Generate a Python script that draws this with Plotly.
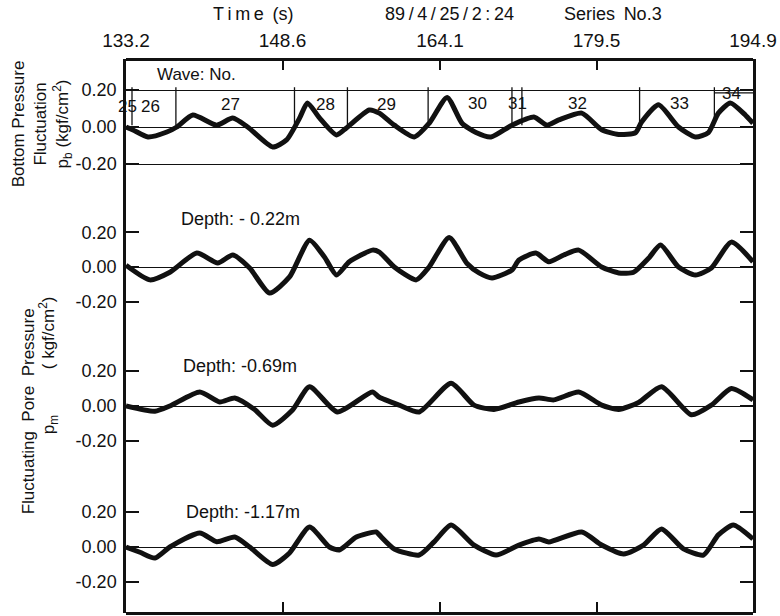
import plotly.graph_objects as go

# ---- time axis (s) ----
time_ticks = [133.2, 148.6, 164.1, 179.5, 194.9]

# ---- bottom pressure fluctuation p_b (kgf/cm^2) ----
t_pb = [133.2, 133.89, 135.36, 137.22, 138.2, 139.78, 142.13, 143.7, 145.17, 147.63,
        149.0, 150.28, 151.06, 152.24, 153.91, 154.89, 157.14, 158.13, 159.6, 161.56,
        163.03, 164.8, 166.27, 167.64, 169.12, 171.18, 173.34, 174.61, 175.79, 178.05,
        180.01, 181.68, 183.35, 183.94, 185.6, 187.57, 189.23, 190.51, 191.49, 192.67,
        194.14, 194.9]
p_b = [0.0, -0.016, -0.054, -0.027, 0.0, 0.065, 0.01, 0.048, 0.0, -0.108,
       -0.07, 0.048, 0.13, 0.049, -0.043, -0.005, 0.092, 0.075, 0.01, -0.054,
       0.02, 0.16, 0.02, -0.03, -0.054, 0.01, 0.054, 0.01, 0.038, 0.075,
       -0.015, -0.04, -0.03, 0.027, 0.12, 0.0, -0.054, -0.03, 0.075, 0.13,
       0.065, 0.02]

# ---- pore pressure p_m, depth -0.22 m ----
t_d022 = [133.2, 135.55, 137.52, 140.17, 142.23, 143.7, 145.37, 147.33, 149.29, 151.26,
          152.73, 153.91, 155.17, 157.44, 158.13, 159.6, 161.76, 163.03, 165.0, 166.76,
          167.94, 169.22, 171.18, 171.87, 173.53, 174.81, 176.28, 177.75, 180.01, 181.68,
          183.15, 184.62, 185.8, 187.57, 189.23, 190.8, 192.77, 194.9]
pm_d022 = [0.01, -0.074, -0.03, 0.08, 0.023, 0.069, -0.006, -0.15, -0.057, 0.154,
           0.057, -0.046, 0.03, 0.097, 0.086, 0.0, -0.074, 0.0, 0.17, 0.02,
           -0.034, -0.063, -0.017, 0.04, 0.08, 0.03, 0.069, 0.097, 0.0, -0.034,
           -0.03, 0.05, 0.126, 0.0, -0.046, -0.006, 0.143, 0.03]

# ---- pore pressure p_m, depth -0.69 m ----
t_d069 = [133.2, 136.05, 137.52, 140.46, 142.42, 143.9, 145.86, 147.63, 149.59, 151.26,
          154.0, 157.44, 158.13, 160.09, 162.05, 165.19, 167.45, 169.41, 171.87, 173.83,
          175.3, 177.75, 180.01, 181.68, 183.64, 185.9, 188.84, 190.8, 192.77, 194.9]
pm_d069 = [0.0, -0.03, 0.0, 0.08, 0.023, 0.046, -0.02, -0.11, -0.023, 0.11,
           -0.034, 0.08, 0.05, 0.005, -0.034, 0.13, 0.005, -0.02, 0.023, 0.046,
           0.035, 0.08, 0.005, -0.02, 0.02, 0.11, -0.05, 0.005, 0.1, 0.035]

# ---- pore pressure p_m, depth -1.17 m ----
t_d117 = [133.2, 134.57, 136.05, 137.52, 140.46, 142.13, 143.9, 145.37, 147.63, 149.29,
          151.26, 153.22, 154.2, 155.87, 157.83, 158.13, 159.6, 162.05, 163.52, 165.19,
          167.45, 169.61, 171.87, 173.83, 174.81, 178.05, 180.01, 182.17, 184.13, 185.9,
          188.06, 190.02, 191.49, 192.96, 194.9]
pm_d117 = [0.0, -0.03, -0.063, 0.0, 0.08, 0.03, 0.057, 0.0, -0.1, -0.034,
           0.114, 0.0, -0.017, 0.057, 0.086, 0.069, -0.011, -0.046, 0.029, 0.126,
           0.011, -0.046, 0.011, 0.046, 0.029, 0.086, 0.011, -0.04, 0.011, 0.103,
           -0.011, -0.046, 0.069, 0.126, 0.046]

# ---- individual waves (zero-up-cross boundaries and wave numbers) ----
wave_bounds = [133.79, 138.11, 149.78, 154.99, 162.93, 171.18, 172.16, 183.74, 191.1]
wave_nos = ["25", "26", "27", "28", "29", "30", "31", "32", "33", "34"]
wave_label_t = [133.3, 135.6, 143.5, 152.8, 158.8, 167.8, 171.7, 177.6, 187.7, 192.8]
wave_label_p = [0.11, 0.11, 0.12, 0.12, 0.12, 0.125, 0.125, 0.125, 0.125, 0.18]

depth_labels = ["Depth: - 0.22m", "Depth: -0.69m", "Depth: -1.17m"]

# ---- page geometry (pixels) ----
W, H = 780, 616
L, R, T, B = 126, 755, 59, 613
PW, PH = R - L, B - T


def px(x):
    return (x - L) / PW


def py(y):
    return (B - y) / PH


FONT = "Liberation Sans, Arial, sans-serif"
INK = "#111111"

# panel bands (top, bottom, zero line, px per unit)
bands = [(59, 190, 127, 185.0), (190, 335, 267, 174.0),
         (335, 475, 406, 175.0), (475, 613, 547, 175.0)]

fig = go.Figure()

series = [(t_pb, p_b), (t_d022, pm_d022), (t_d069, pm_d069), (t_d117, pm_d117)]
for i, (tt, vv) in enumerate(series):
    fig.add_trace(go.Scatter(
        x=tt, y=vv, mode="lines",
        line=dict(color=INK, width=5, shape="spline", smoothing=0.6),
        xaxis="x", yaxis="y" if i == 0 else f"y{i + 1}",
        showlegend=False, hoverinfo="skip"))

layout = dict(
    width=W, height=H,
    margin=dict(l=L, r=W - R, t=T, b=H - B, pad=0),
    paper_bgcolor="white", plot_bgcolor="white",
    font=dict(family=FONT, size=18, color=INK),
    showlegend=False,
    xaxis=dict(range=[time_ticks[0], time_ticks[-1]], tickvals=time_ticks,
               ticktext=[f"{v:.1f}" for v in time_ticks],
               side="top", anchor="free", position=1,
               ticks="inside", ticklen=9, tickwidth=1.5, tickcolor=INK,
               showline=True, linecolor=INK, linewidth=2.5,
               showgrid=False, zeroline=False,
               tickfont=dict(size=19), ticklabelstandoff=4),
    xaxis2=dict(range=[time_ticks[0], time_ticks[-1]], overlaying="x",
                tickvals=time_ticks[1:-1], side="bottom", anchor="free",
                position=0, ticks="inside", ticklen=10, tickwidth=1.5,
                tickcolor=INK, showticklabels=False,
                showline=True, linecolor=INK, linewidth=2.5,
                showgrid=False, zeroline=False),
)

for i, (top, bot, zero, scale) in enumerate(bands):
    name = "yaxis" if i == 0 else f"yaxis{i + 1}"
    layout[name] = dict(
        domain=[py(bot), py(top)],
        range=[(zero - bot) / scale, (zero - top) / scale],
        anchor="x",
        tickvals=[-0.2, 0.0, 0.2], ticktext=["-0.20", "0.00", "0.20"],
        ticks="inside", ticklen=13, tickwidth=1.5, tickcolor=INK,
        showline=True, linecolor=INK, linewidth=2.5, mirror="ticks",
        showgrid=(i == 0), gridcolor=INK, gridwidth=1.3,
        zeroline=True, zerolinecolor=INK, zerolinewidth=1.3,
        tickfont=dict(size=18), ticklabelstandoff=3,
    )

fig.update_layout(**layout)

# the bottom axis has no traces of its own; give it a hidden one so it draws
fig.add_trace(go.Scatter(x=[time_ticks[0]], y=[None], xaxis="x2", yaxis="y4",
                         mode="markers", showlegend=False, hoverinfo="skip"))

# wave boundaries in the bottom-pressure panel
for tb in wave_bounds:
    fig.add_shape(type="line", xref="x", yref="y", x0=tb, x1=tb, y0=0.01, y1=0.215,
                  line=dict(color=INK, width=1.3))
fig.add_shape(type="line", xref="x", yref="y", x0=wave_bounds[-1], x1=time_ticks[-1],
              y0=0.185, y1=0.185, line=dict(color=INK, width=1.3))

annotations = []
for lab, tl, pl in zip(wave_nos, wave_label_t, wave_label_p):
    annotations.append(dict(text=lab, x=tl, y=pl, xref="x", yref="y",
                            showarrow=False, font=dict(size=17)))

annotations.append(dict(text="Wave: No.", x=px(197), y=py(75), xref="paper",
                        yref="paper", showarrow=False, font=dict(size=17)))

for lab, (xx, yy) in zip(depth_labels, [(241, 219), (240, 366), (243, 512)]):
    annotations.append(dict(text=lab, x=px(xx), y=py(yy), xref="paper",
                            yref="paper", showarrow=False, font=dict(size=18)))

# header line
annotations += [
    dict(text="T\u2009i\u2009m\u2009e\u2009 (s)", x=px(253), y=py(14)),
    dict(text="89/4/25/2:24".replace("/", "\u2009/\u2009").replace(":", "\u2009:\u2009"),
         x=px(451), y=py(14)),
    dict(text="Series\u2009 No.3", x=px(615), y=py(14)),
]
for a in annotations[-3:]:
    a.update(xref="paper", yref="paper", showarrow=False, font=dict(size=18))

# axis titles
annotations += [
    dict(text="Bottom Pressure<br>Fluctuation<br>p<sub>b</sub> (kgf/cm<sup>2</sup>)",
         x=px(42), y=py(124), textangle=-90),
    dict(text="Fluctuating  Pore  Pressure", x=px(29), y=py(411), textangle=-90),
    dict(text="p<sub>m</sub>", x=px(50), y=py(425), textangle=-90),
    dict(text="( kgf/cm<sup>2</sup>)", x=px(47), y=py(333), textangle=-90),
]
for a in annotations[-4:]:
    a.update(xref="paper", yref="paper", showarrow=False, font=dict(size=17))

for a in annotations:
    a.update(xanchor="center", yanchor="middle")

fig.update_layout(annotations=annotations)

fig.write_html("out.html")
